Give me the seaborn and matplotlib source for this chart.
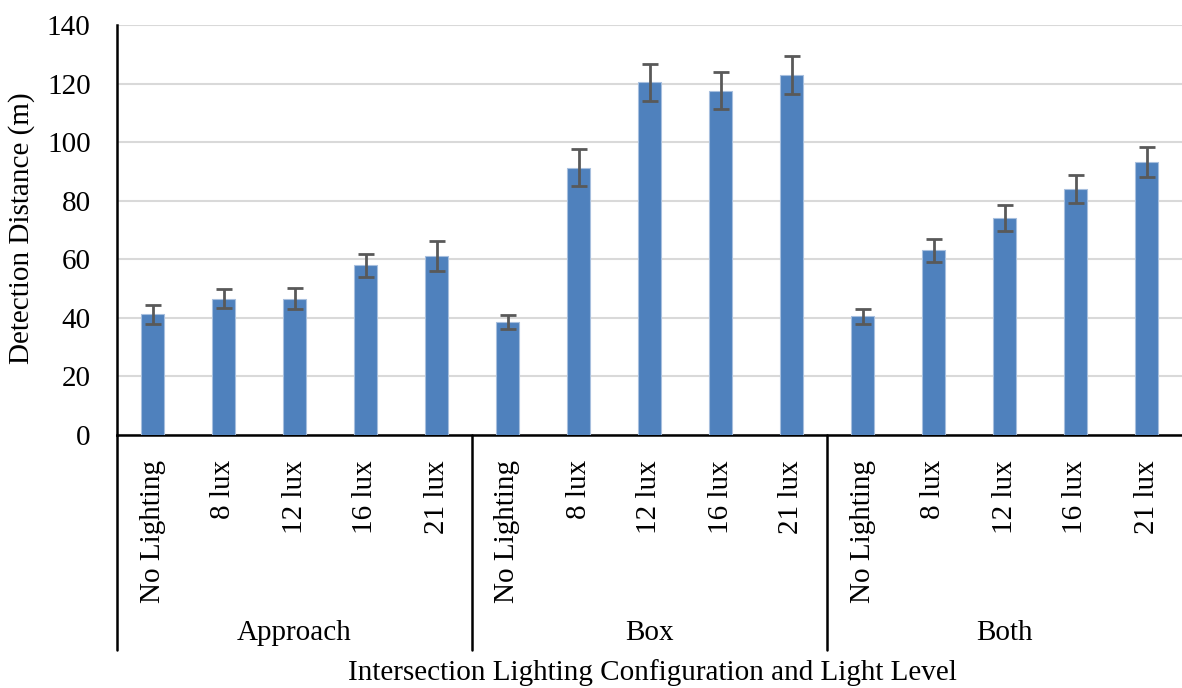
import matplotlib
matplotlib.use("Agg")
import matplotlib.pyplot as plt
import matplotlib.transforms as mtransforms
import seaborn as sns
import pandas as pd
import numpy as np

groups = ["Approach", "Box", "Both"]
levels = ["No Lighting", "8 lux", "12 lux", "16 lux", "21 lux"]
approach_mean = [41.2, 46.6, 46.5, 57.9, 61.2]
box_mean = [38.5, 91.2, 120.4, 117.6, 122.9]
both_mean = [40.5, 63.1, 74.2, 84.0, 93.1]
approach_err = [3.2, 3.1, 3.6, 4.0, 5.1]
box_err = [2.4, 6.3, 6.3, 6.2, 6.5]
both_err = [2.6, 3.9, 4.4, 4.7, 5.1]

means = approach_mean + box_mean + both_mean
errs = approach_err + box_err + both_err
keys = [f"{g}|{l}" for g in groups for l in levels]
df = pd.DataFrame({"key": keys, "value": means, "err": errs})

sns.set_theme(style="white")
plt.rcParams["font.family"] = ["Liberation Serif", "DejaVu Serif"]
plt.rcParams["text.color"] = "black"
plt.rcParams["axes.labelcolor"] = "black"
plt.rcParams["xtick.color"] = "black"
plt.rcParams["ytick.color"] = "black"

fig = plt.figure(figsize=(11.82, 6.88), dpi=100)
ax = fig.add_axes([117 / 1182, (688 - 435) / 688, (1182 - 117) / 1182, (435 - 25) / 688])

sns.barplot(data=df, x="key", y="value", order=keys, color="#4F81BD",
            width=0.31, saturation=1, edgecolor="#A7BFDE", linewidth=0.8,
            ax=ax, zorder=3)
xs = np.arange(len(keys))
ax.errorbar(xs, df["value"], yerr=df["err"], fmt="none", ecolor="#595959",
            elinewidth=2, capsize=6, capthick=2, zorder=4)

ax.set_xlim(-0.5, len(keys) - 0.5)
ax.set_ylim(0, 140)
ax.set_yticks(range(0, 141, 20))
ax.yaxis.grid(True, color="#D9D9D9", linewidth=1.5, zorder=0)
ax.set_axisbelow(True)
for s in ["top", "right"]:
    ax.spines[s].set_visible(False)
ax.spines["left"].set_color("black")
ax.spines["left"].set_linewidth(1.8)
ax.spines["bottom"].set_color("black")
ax.spines["bottom"].set_linewidth(1.8)
ax.tick_params(axis="y", labelsize=21, length=0, pad=19)
ax.tick_params(axis="x", length=0, pad=18)
ax.set_xticks(xs)
ax.set_xticklabels(levels * len(groups), rotation=90, fontsize=21, va="top")
ax.set_xlabel("")
ax.set_ylabel("")
fig.text(22 / 1182, (688 - 228) / 688, "Detection Distance (m)", rotation=90,
         ha="center", va="center", fontsize=21)

# group separators and group labels
trans = mtransforms.blended_transform_factory(ax.transData, fig.transFigure)
y_bottom = (688 - 650) / 688
y_top = (688 - 435) / 688
for b in [-0.5, 4.5, 9.5]:
    ax.plot([b, b], [y_top, y_bottom], transform=trans, color="black",
            linewidth=1.8, clip_on=False)
for i, g in enumerate(groups):
    ax.text(i * 5 + 2, (688 - 633) / 688, g, transform=trans, ha="center",
            va="center", fontsize=21)

fig.text(652 / 1182, (688 - 673) / 688,
         "Intersection Lighting Configuration and Light Level",
         ha="center", va="center", fontsize=21)

fig.savefig("out.png", dpi=100)
